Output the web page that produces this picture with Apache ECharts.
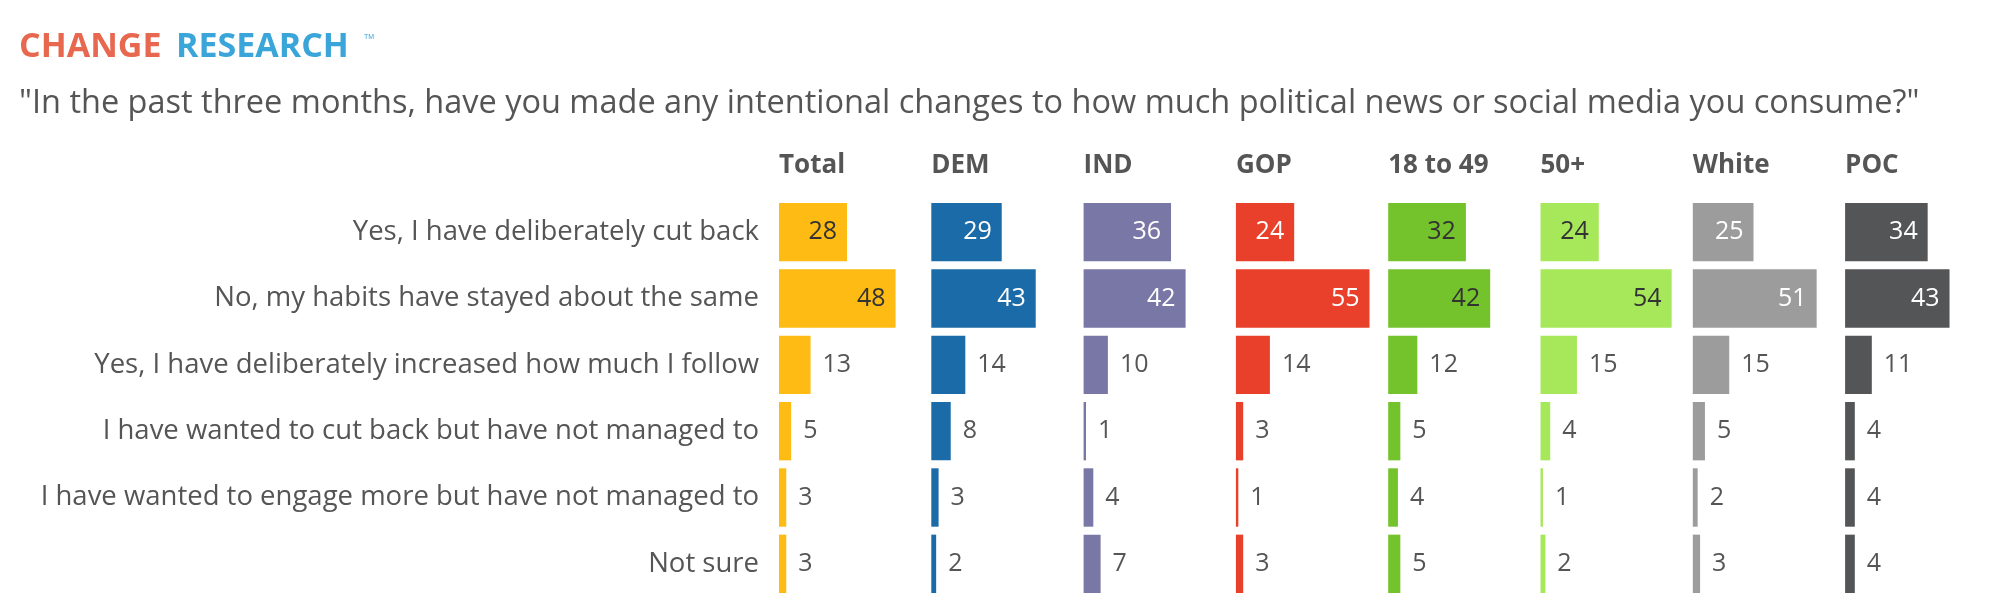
<!DOCTYPE html>
<html style="height: 100%">
<head>
<meta charset="utf-8">
<script src="https://cdn.jsdelivr.net/npm/echarts@6/dist/echarts.min.js"></script>
</head>
<body style="height: 100%; margin: 0; background: #fff">
<div id="main" style="width: 1999px; height: 612px"></div>
<script type="text/javascript">
var myChart = echarts.init(document.getElementById('main'));
var answers = ['Yes, I have deliberately cut back', 'No, my habits have stayed about the same',
    'Yes, I have deliberately increased how much I follow', 'I have wanted to cut back but have not managed to',
    'I have wanted to engage more but have not managed to', 'Not sure'];
// name, colour, inside label colour, values
var groups = [
    ['Total', '#FDBB13', '#333', [28, 48, 13, 5, 3, 3]],
    ['DEM', '#1B6BA8', '#fff', [29, 43, 14, 8, 3, 2]],
    ['IND', '#7977A6', '#fff', [36, 42, 10, 1, 4, 7]],
    ['GOP', '#E8402A', '#fff', [24, 55, 14, 3, 1, 3]],
    ['18 to 49', '#74C22C', '#333', [32, 42, 12, 5, 4, 5]],
    ['50+', '#A7E85B', '#333', [24, 54, 15, 4, 1, 2]],
    ['White', '#9C9C9C', '#fff', [25, 51, 15, 5, 2, 3]],
    ['POC', '#545557', '#fff', [34, 43, 11, 4, 4, 4]]
];
var grids = [], xAxes = [], yAxes = [], series = [], graphic = [];
graphic.push({type: 'text', left: 19, top: 30, style: {text: 'CHANGE', font: 'bold 34px "Open Sans"', fill: '#E8684F'}});
graphic.push({type: 'text', left: 176, top: 30, style: {text: 'RESEARCH', font: 'bold 34px "Open Sans"', fill: '#3AA5D8'}});
graphic.push({type: 'text', left: 364, top: 34, style: {text: 'TM', font: '7px sans-serif', fill: '#3AA5D8'}});
graphic.push({type: 'text', left: 19, top: 87, style: {text: '"In the past three months, have you made any intentional changes to how much political news or social media you consume?"', font: '32.5px "Open Sans"', fill: '#555'}});
groups.forEach(function (g, i) {
    var left = 779 + i * 152.3;
    grids.push({left: left, width: 153, top: 199, height: 398});
    graphic.push({type: 'text', left: left, top: 153, style: {text: g[0], font: 'bold 26px "Open Sans"', fill: '#555'}});
    xAxes.push({gridIndex: i, type: 'value', min: 0, max: 63, show: false});
    yAxes.push({gridIndex: i, type: 'category', inverse: true, data: answers,
        axisLine: {show: false}, axisTick: {show: false}, splitLine: {show: false},
        axisLabel: {show: i === 0, fontSize: 27.5, color: '#555', margin: 20, fontFamily: 'Open Sans'}});
    series.push({type: 'bar', xAxisIndex: i, yAxisIndex: i, barCategoryGap: '12%',
        itemStyle: {color: g[1]},
        data: g[3].map(function (v) {
            var big = v >= 20;
            return {value: v, label: {show: true, position: big ? 'insideRight' : 'right',
                color: big ? g[2] : '#555', fontSize: 25, fontFamily: 'Open Sans', distance: big ? 10 : 12}};
        })
    });
});
myChart.setOption({animation: false, grid: grids, xAxis: xAxes, yAxis: yAxes, series: series, graphic: graphic});
</script>
</body>
</html>
